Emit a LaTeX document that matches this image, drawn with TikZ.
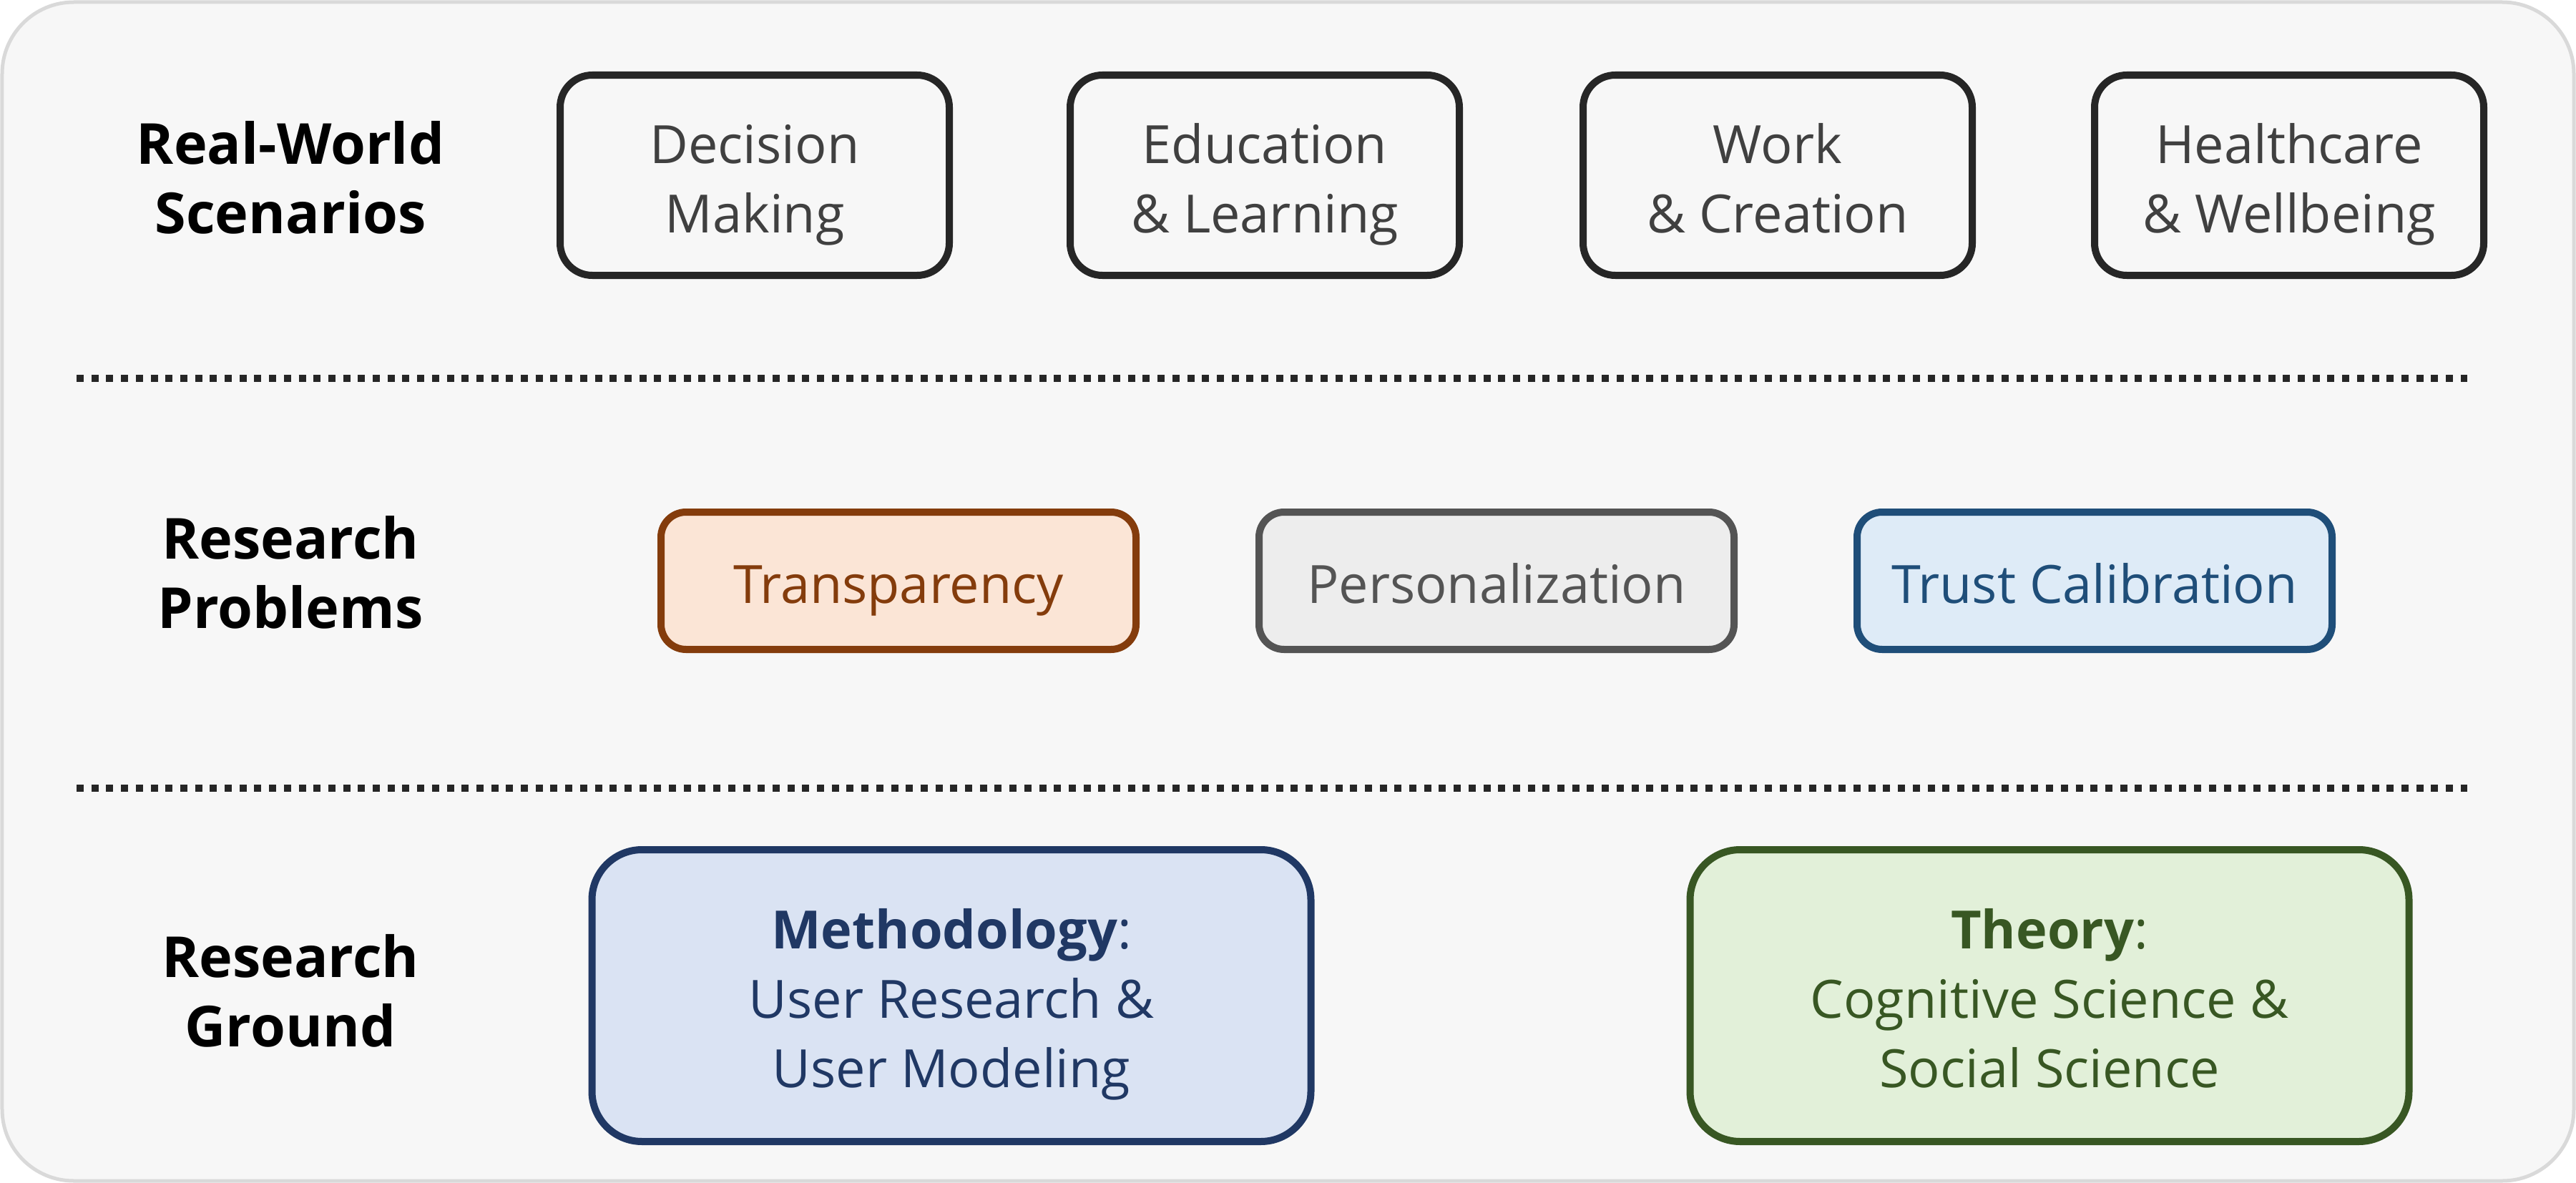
\documentclass[tikz,border=0pt]{standalone}
\usepackage{fontspec}
\setmainfont{Open Sans}
\definecolor{outerc}{HTML}{D9D9D9}
\definecolor{bgc}{HTML}{F7F7F7}
\definecolor{scenc}{HTML}{262626}
\definecolor{scent}{HTML}{404040}
\definecolor{trD}{HTML}{843C0C}
\definecolor{trF}{HTML}{FBE5D6}
\definecolor{peD}{HTML}{545454}
\definecolor{peF}{HTML}{EDEDED}
\definecolor{tcD}{HTML}{1F4E79}
\definecolor{tcF}{HTML}{DEEBF7}
\definecolor{meD}{HTML}{203864}
\definecolor{meF}{HTML}{DAE3F3}
\definecolor{thD}{HTML}{385723}
\definecolor{thF}{HTML}{E2F0D9}
\newcommand{\txtfont}{\fontsize{21}{27.6}\selectfont}
\newcommand{\lblfont}{\fontsize{22.5}{27.6}\selectfont\bfseries}
\newcommand{\hs}{\rule{0pt}{20pt}}
\newcommand{\ds}{\rule[-3pt]{0pt}{3pt}}
\newcommand{\bhs}{\rule{0pt}{24pt}}
\newcommand{\bds}{\rule[-6pt]{0pt}{6pt}}
\tikzset{
  lbl/.style={font=\lblfont, align=center, text=black, inner sep=0},
  scen/.style={draw=scenc, line width=0.1cm, rounded corners=0.45cm, minimum width=5.44cm, minimum height=2.8cm, align=center, text=scent, font=\txtfont, inner sep=0},
  prob/.style={line width=0.1cm, rounded corners=0.35cm, minimum width=6.64cm, minimum height=1.92cm, font=\txtfont, inner sep=0},
  ground/.style={line width=0.1cm, rounded corners=0.7cm, minimum width=10.05cm, minimum height=4.08cm, align=center, font=\txtfont, inner sep=0},
  sepline/.style={draw=scenc, line width=0.10cm, dash pattern=on 0.10cm off 0.107cm}
}
\begin{document}
\begin{tikzpicture}
\useasboundingbox (0,0) rectangle (36.01,-16.54);
\draw[line width=0.05cm, draw=outerc, fill=bgc, rounded corners=1cm] (0.03,-0.03) rectangle (35.98,-16.51);
% left labels
\node[lbl] (l1) at (4.06,-2.48) {\hs Real-World\\Scenarios\ds};
\node[lbl] (l2) at (4.06,-8.00) {\hs Research\\Problems\ds};
\node[lbl] (l3) at (4.06,-13.85) {\hs Research\\Ground\ds};
% scenarios
\node[scen] (s1) at (10.55,-2.45) {\bhs Decision\\Making\bds};
\node[scen] (s2) at (17.68,-2.45) {\bhs Education\\\& Learning\bds};
\node[scen] (s3) at (24.85,-2.45) {\bhs Work\\\& Creation\bds};
\node[scen] (s4) at (32.00,-2.45) {\bhs Healthcare\\\& Wellbeing\bds};
% separators
\coordinate (d1a) at (1.07,-5.29);
\coordinate (d1b) at (34.49,-5.29);
\coordinate (d2a) at (1.07,-11.02);
\coordinate (d2b) at (34.49,-11.02);
\draw[sepline] (d1a) -- (d1b);
\draw[sepline] (d2a) -- (d2b);
% problems
\node[prob, draw=trD, fill=trF, text=trD] (p1) at (12.56,-8.12) {\bhs Transparency\bds};
\node[prob, draw=peD, fill=peF, text=peD] (p2) at (20.92,-8.12) {\bhs Personalization\bds};
\node[prob, draw=tcD, fill=tcF, text=tcD] (p3) at (29.28,-8.12) {\bhs Trust Calibration\bds};
% ground
\node[ground, draw=meD, fill=meF, text=meD] (g1) at (13.30,-13.92) {\bhs\textbf{Methodology}:\\User Research \&\\User Modeling\bds};
\node[ground, draw=thD, fill=thF, text=thD] (g2) at (28.65,-13.92) {\bhs\textbf{Theory}:\\Cognitive Science \&\\Social Science\bds};
\end{tikzpicture}
\end{document}
